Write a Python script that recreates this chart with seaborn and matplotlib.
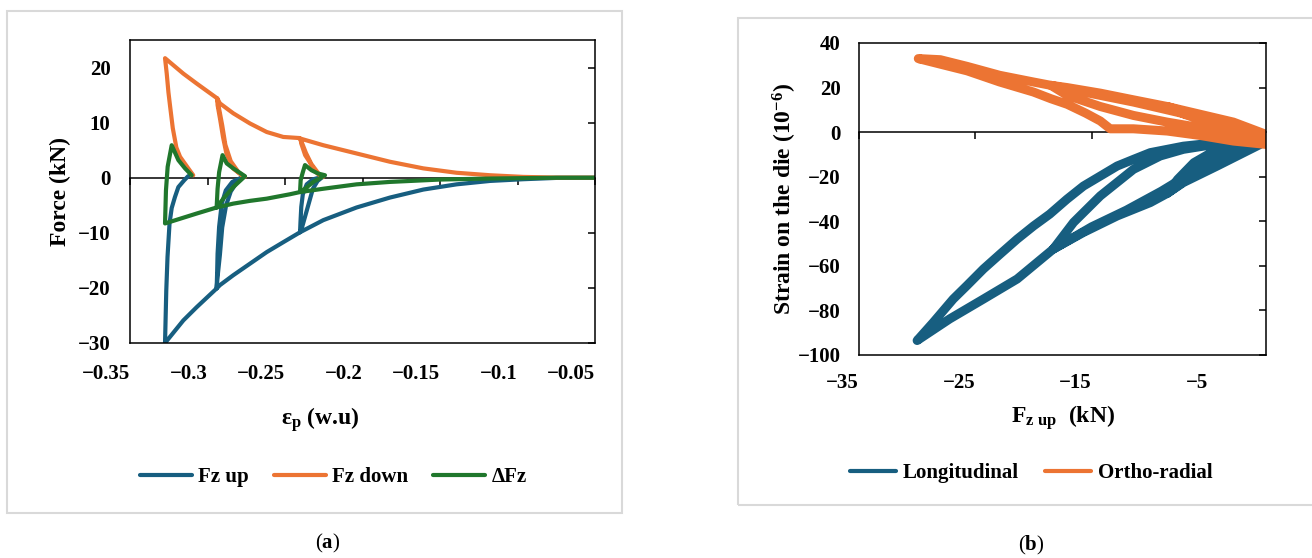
import matplotlib
matplotlib.use("Agg")
import matplotlib.pyplot as plt
from matplotlib.patches import Rectangle
import seaborn as sns

# (a) force vs plastic strain, three unload/reload cycles
fz_up_eps = [-0.045, -0.0748, -0.0963, -0.1177, -0.1393, -0.1608, -0.1823, -0.2038, -0.2253, -0.2403,
             -0.2400, -0.2395, -0.2385, -0.2360, -0.2320, -0.2255,
             -0.2290, -0.2320, -0.2340, -0.2365, -0.2390, -0.2403,
             -0.2511, -0.2618, -0.2726, -0.2834, -0.2920, -0.2941,
             -0.2938, -0.2935, -0.2925, -0.2908, -0.2882, -0.2840, -0.2775,
             -0.2810, -0.2850, -0.2880, -0.2905, -0.2920, -0.2935, -0.2941,
             -0.3070, -0.3156, -0.3274,
             -0.3266, -0.3258, -0.3245, -0.3231, -0.3210, -0.3188, -0.3150, -0.3124]
fz_up = [0.0, -0.03, -0.27, -0.58, -1.2, -2.15, -3.6, -5.4, -7.7, -9.9,
         -8.0, -5.3, -3.0, -1.2, -0.3, 0.2,
         -0.6, -2.0, -4.0, -6.5, -9.0, -9.9,
         -11.7, -13.5, -15.6, -17.7, -19.5, -20.1,
         -17.4, -13.8, -8.9, -4.7, -2.3, -0.76, 0.1,
         -0.8, -2.5, -5.0, -9.0, -14.0, -18.0, -20.1,
         -23.5, -25.9, -30.0,
         -20.5, -14.4, -8.3, -5.5, -3.5, -1.7, -0.45, 0.3]

fz_down_eps = [-0.045, -0.0748, -0.0963, -0.1177, -0.1393, -0.1608, -0.1823, -0.2038, -0.2253, -0.2400,
               -0.2395, -0.2370, -0.2340, -0.2310, -0.2280, -0.2255,
               -0.2285, -0.2330, -0.2365, -0.2390, -0.2405,
               -0.2511, -0.2618, -0.2726, -0.2834, -0.2920, -0.2937,
               -0.2935, -0.2918, -0.2900, -0.2878, -0.2836, -0.2780, -0.2758,
               -0.2800, -0.2850, -0.2885, -0.2905, -0.2925, -0.2937,
               -0.3070, -0.3156, -0.3274,
               -0.3263, -0.3252, -0.3241, -0.3224, -0.3201, -0.3177, -0.3124, -0.3092]
fz_down = [0.0, 0.03, 0.15, 0.45, 0.9, 1.7, 2.9, 4.4, 5.9, 7.1,
           6.2, 4.1, 2.8, 1.3, 0.5, 0.1,
           0.8, 2.5, 4.5, 6.3, 7.2,
           7.4, 8.3, 9.85, 11.7, 13.5, 14.4,
           13.2, 10.5, 7.4, 4.4, 1.7, 0.45, 0.15,
           1.0, 3.0, 6.0, 9.5, 12.5, 14.4,
           17.1, 18.9, 21.7,
           18.9, 15.5, 12.9, 9.0, 5.5, 3.8, 1.7, 0.45]

dfz_eps = [-0.045, -0.0748, -0.1177, -0.1500, -0.1823, -0.2038, -0.2253, -0.2403,
           -0.2399, -0.2385, -0.2371, -0.2329, -0.2286, -0.2242,
           -0.2317, -0.2371, -0.2403,
           -0.2468, -0.2618, -0.2726, -0.2834, -0.2941,
           -0.2935, -0.2925, -0.2903, -0.2876, -0.2834, -0.2758,
           -0.2834, -0.2898, -0.2941,
           -0.3070, -0.3274,
           -0.3268, -0.3257, -0.3231, -0.3188, -0.3145, -0.3102]
dfz = [0.0, 0.0, -0.15, -0.33, -0.76, -1.2, -2.0, -2.6,
       -0.45, 1.0, 2.3, 1.36, 0.76, 0.45,
       -0.76, -2.0, -2.6,
       -3.0, -3.8, -4.2, -4.7, -5.4,
       -2.0, 1.0, 4.1, 2.6, 1.7, 0.27,
       -1.7, -3.8, -5.4,
       -6.5, -8.3,
       -2.3, 2.0, 5.9, 3.2, 1.7, 0.45]

# (b) die strain vs upper force
long_f = [-0.5, -1.34, -4.2, -7.1, -8.5,
          -7.6, -6.2, -4.2, -2.8, -1.0,
          -2.5, -4.5, -6.5, -8.5,
          -9.95, -12.8, -15.7, -18.3,
          -16.55, -14.25, -11.4, -9.1, -7.1, -4.2, -2.0,
          -3.5, -6.0, -9.0, -12.0, -15.0, -18.3,
          -21.4, -24.3, -27.2, -30.0,
          -28.6, -26.9, -25.73, -24.3, -22.86, -21.4, -19.99, -18.6, -17.12, -15.7, -14.25,
          -12.8, -11.39, -9.95, -7.1, -4.2, -1.5]
long_strain = [-5.5, -7.7, -15.2, -22.6, -27.5,
               -21.2, -13.7, -7.7, -5.5, -4.5,
               -9.0, -14.5, -20.0, -27.5,
               -31.6, -37.6, -45.0, -52.5,
               -40.5, -28.6, -16.7, -10.7, -7.7, -5.3, -4.5,
               -10.0, -17.0, -26.5, -35.0, -42.5, -52.5,
               -65.9, -74.9, -83.8, -93.5,
               -85.3, -74.9, -68.9, -61.4, -54.7, -48.0, -42.1, -36.8, -30.1, -24.2, -19.7,
               -15.2, -12.2, -9.2, -6.3, -4.7, -4.5]

orth_f = [0.0, -2.8, -5.65, -8.5,
          -7.0, -5.65, -2.8, 0.0,
          -2.8, -5.65, -8.5,
          -11.4, -14.25, -17.1, -18.5,
          -17.1, -14.25, -11.4, -8.5, -5.65, -2.8, 0.0,
          -2.8, -5.65, -8.5, -11.4, -14.25, -17.1, -18.5,
          -20.0, -22.9, -25.7, -28.0, -29.9,
          -28.0, -25.7, -22.9, -20.0, -18.5, -17.1, -15.5, -14.25, -13.4, -11.4, -8.5, -5.65, -2.8, 0.0]
orth_strain = [-1.0, 4.5, 8.0, 11.5,
               8.0, 5.5, 1.5, -2.0,
               3.0, 7.0, 11.5,
               14.5, 17.5, 20.0, 21.0,
               16.5, 11.5, 7.5, 4.5, 2.0, -0.5, -3.0,
               2.5, 6.5, 10.0, 13.5, 16.5, 19.5, 21.0,
               22.5, 25.5, 29.5, 32.5, 33.0,
               30.5, 27.5, 22.5, 18.0, 15.0, 12.5, 8.5, 5.0, 1.5, 1.5, 0.5, -1.5, -4.0, -5.5]

eps_ticks = [-0.35, -0.3, -0.25, -0.2, -0.15, -0.1, -0.05]
eps_labels = ['\u22120.35', '\u22120.3', '\u22120.25', '\u22120.2', '\u22120.15', '\u22120.1', '\u22120.05']
force_ticks = [-30, -20, -10, 0, 10, 20]
fz_ticks = [-35, -25, -15, -5]
fz_labels = ['\u221235', '\u221225', '\u221215', '\u22125']
strain_ticks = [-100, -80, -60, -40, -20, 0, 20, 40]

sns.set_style("white")
plt.rcParams['font.family'] = ['Liberation Serif', 'DejaVu Serif']
plt.rcParams['font.weight'] = 'bold'
plt.rcParams['mathtext.fontset'] = 'custom'
plt.rcParams['mathtext.rm'] = 'Liberation Serif'
plt.rcParams['mathtext.bf'] = 'Liberation Serif:bold'
plt.rcParams['mathtext.it'] = 'Liberation Serif:italic'
for k in ['text.color', 'axes.labelcolor', 'xtick.color', 'ytick.color']:
    plt.rcParams[k] = 'black'
plt.rcParams['axes.linewidth'] = 1.1

BLUE = '#175E80'
ORANGE = '#EC7433'
GREEN = '#20772C'

W, H = 1312, 558
fig = plt.figure(figsize=(W / 100, H / 100), dpi=100)
ax1 = fig.add_axes([130 / W, 1 - 343 / H, 465 / W, 303 / H])
ax2 = fig.add_axes([859 / W, 1 - 355 / H, 407 / W, 312 / H])


def style_axes(ax, xlim, ylim, xticks, xlabels, yticks, xpad, ypad):
    ax.set_xlim(xlim)
    ax.set_ylim(ylim)
    ax.set_xticks(xticks)
    ax.set_xticklabels(xlabels, ha='right')
    ax.set_yticks(yticks)
    ax.tick_params(axis='x', bottom=False, top=False, length=0, pad=xpad, labelsize=15)
    ax.tick_params(axis='y', left=False, right=True, direction='in', length=5, width=1.1,
                   labelleft=True, labelright=False, labelsize=15, pad=ypad)
    for s in ax.spines.values():
        s.set_visible(True)
        s.set_color('black')
        s.set_linewidth(1.1)
    # Excel-style horizontal axis line at y = 0 with outward tick marks
    zero = (0 - ylim[0]) / (ylim[1] - ylim[0])
    sec = ax.secondary_xaxis(zero)
    sec.set_alignment('bottom')
    sec.set_xticks(xticks)
    sec.tick_params(axis='x', bottom=True, top=False, direction='out', length=5, width=1.1,
                    labelbottom=False, labeltop=False)
    sec.spines['bottom'].set_color('black')
    sec.spines['bottom'].set_linewidth(1.1)


# panel (a)
sns.lineplot(x=fz_up_eps, y=fz_up, sort=False, estimator=None, color=BLUE, lw=3,
             label='Fz up', ax=ax1)
sns.lineplot(x=fz_down_eps, y=fz_down, sort=False, estimator=None, color=ORANGE, lw=3,
             label='Fz down', ax=ax1)
sns.lineplot(x=dfz_eps, y=dfz, sort=False, estimator=None, color=GREEN, lw=3,
             label='\u0394Fz', ax=ax1)
for ln in ax1.get_lines():
    ln.set_solid_joinstyle('round')
style_axes(ax1, (-0.35, -0.05), (-30, 25), eps_ticks, eps_labels, force_ticks, 15, 14)
ax1.set_xlabel('\u03b5$_\\mathbf{p}$ (w.u)', fontsize=17, fontweight='bold')
ax1.set_ylabel('Force (kN)', fontsize=17, fontweight='bold')
ax1.xaxis.set_label_coords(0.41, -0.205)
ax1.yaxis.set_label_coords(-0.127, 0.5)
leg1 = ax1.legend(loc='center', bbox_to_anchor=(0.437, -0.442), ncol=3, frameon=False,
                  fontsize=15, handlelength=2.5, handletextpad=0.3, columnspacing=1.2)
for ln in leg1.get_lines():
    ln.set_linewidth(3)
    ln.set_solid_capstyle('round')

# panel (b)
sns.lineplot(x=long_f, y=long_strain, sort=False, estimator=None, color=BLUE, lw=6.5,
             label='Longitudinal', ax=ax2)
sns.lineplot(x=orth_f, y=orth_strain, sort=False, estimator=None, color=ORANGE, lw=6.5,
             label='Ortho-radial', ax=ax2)
for ln in ax2.get_lines():
    ln.set_solid_capstyle('round')
    ln.set_solid_joinstyle('round')
style_axes(ax2, (-35, 0), (-100, 40), fz_ticks, fz_labels, strain_ticks, 13, 13)
ax2.set_xlabel('F$_\\mathbf{z\\ up}$  (kN)', fontsize=17, fontweight='bold')
ax2.set_ylabel('Strain on the die (10$^{\\mathbf{-6}}$)', fontsize=17, fontweight='bold')
ax2.xaxis.set_label_coords(0.5, -0.154)
ax2.yaxis.set_label_coords(-0.147, 0.5)
leg2 = ax2.legend(loc='center', bbox_to_anchor=(0.423, -0.378), ncol=2, frameon=False,
                  fontsize=15, handlelength=2.2, handletextpad=0.3, columnspacing=1.3)
for ln in leg2.get_lines():
    ln.set_linewidth(3)
    ln.set_solid_capstyle('round')

# light frames around each panel
fig.add_artist(Rectangle((7 / W, 1 - 513 / H), 615 / W, 502 / H, transform=fig.transFigure,
                         fill=False, edgecolor='#d9d9d9', lw=1.5))
fig.add_artist(Rectangle((738 / W, 1 - 505 / H), 600 / W, 487 / H, transform=fig.transFigure,
                         fill=False, edgecolor='#d9d9d9', lw=1.5))

fig.text(328 / W, 1 - 543 / H, '($\\mathbf{a}$)', ha='center', va='center', fontsize=15,
         fontweight='normal')
fig.text(1031 / W, 1 - 545 / H, '($\\mathbf{b}$)', ha='center', va='center', fontsize=15,
         fontweight='normal')

fig.savefig('out.png', dpi=100)
